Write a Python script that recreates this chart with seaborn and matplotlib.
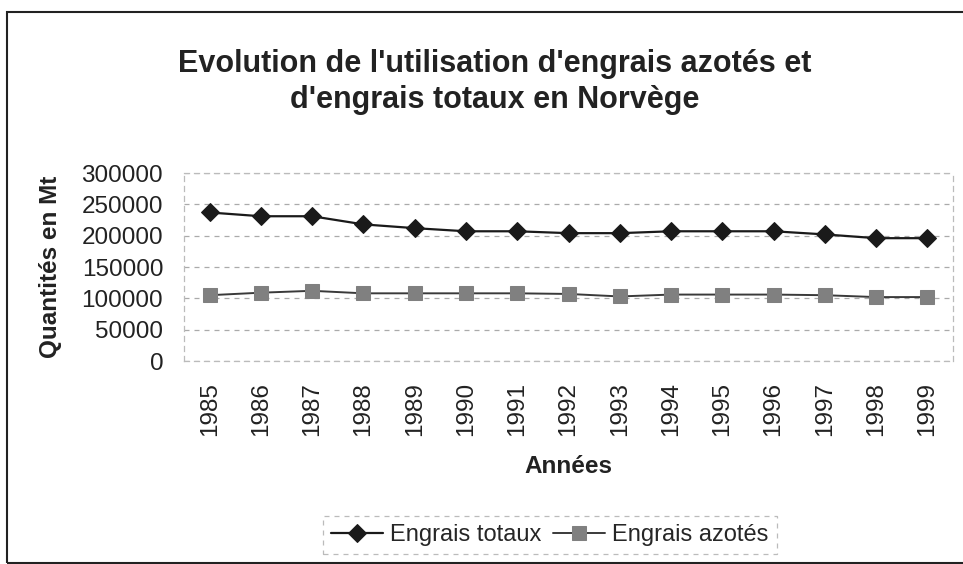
import pandas as pd
import matplotlib.pyplot as plt
import seaborn as sns
from matplotlib.patches import Rectangle

# ---------------------------------------
# Data
# ---------------------------------------

years = ["1985", "1986", "1987", "1988", "1989", "1990", "1991", "1992",
         "1993", "1994", "1995", "1996", "1997", "1998", "1999"]
engrais_totaux = [237000, 231000, 231000, 218000, 212000, 207000, 207000, 204000,
                  204000, 207000, 207000, 207000, 202000, 196000, 196000]
engrais_azotes = [105000, 109000, 112000, 108000, 108000, 108000, 108000, 107000,
                  103000, 106000, 106000, 106000, 105000, 102000, 102000]
y_ticks = [0, 50000, 100000, 150000, 200000, 250000, 300000]

df = pd.DataFrame({"annee": years, "totaux": engrais_totaux, "azotes": engrais_azotes})

# ---------------------------------------
# Figure
# ---------------------------------------

sns.set_style("white")
plt.rcParams["font.family"] = ["Liberation Sans", "DejaVu Sans"]

fig = plt.figure(figsize=(9.63, 5.64), dpi=100)
ax = fig.add_axes([184 / 963, 1 - 361 / 564, (953 - 184) / 963, (361 - 173) / 564])

sns.lineplot(data=df, x="annee", y="totaux", ax=ax, sort=False, color="#1a1a1a",
             marker="D", markersize=9, markeredgecolor="#1a1a1a", linewidth=1.6,
             label="Engrais totaux")
sns.lineplot(data=df, x="annee", y="azotes", ax=ax, sort=False, color="#3a3a3a",
             marker="s", markersize=10, markerfacecolor="#808080",
             markeredgecolor="#808080", linewidth=1.4, label="Engrais azotés")

ax.set_xlim(-0.5, len(years) - 0.5)
ax.set_ylim(0, 300000)
ax.set_yticks(y_ticks)
ax.set_yticklabels([str(v) for v in y_ticks], fontsize=17.5, color="#222222")
ax.set_xticks(range(len(years)))
ax.set_xticklabels(years, rotation=90, fontsize=17.5, color="#222222")
ax.set_xticks([i - 0.5 for i in range(len(years) + 1)], minor=True)
ax.tick_params(axis="x", which="major", length=0, pad=15)
ax.tick_params(axis="x", which="minor", length=4, color="#aaaaaa", width=1)
ax.tick_params(axis="y", length=4, color="#aaaaaa", pad=11)

ax.yaxis.grid(True, linestyle=(0, (4, 4)), color="#aaaaaa", linewidth=0.9)
for side in ["left", "bottom", "top", "right"]:
    ax.spines[side].set_visible(True)
    ax.spines[side].set_linestyle((0, (4, 4)))
    ax.spines[side].set_color("#bbbbbb")
    ax.spines[side].set_linewidth(0.9)

ax.set_xlabel("Années", fontsize=17.5, fontweight="bold", labelpad=14, color="#222222")
ax.set_ylabel("Quantités en Mt", fontsize=17.5, fontweight="bold", labelpad=14, color="#222222")

fig.text(495 / 963, 1 - 82 / 564,
         "Evolution de l'utilisation d'engrais azotés et\nd'engrais totaux en Norvège",
         ha="center", va="center", fontsize=22, fontweight="bold", color="#222222",
         linespacing=1.3)

leg = ax.legend(loc="center", bbox_to_anchor=(550 / 963, 1 - 535 / 564),
                bbox_transform=fig.transFigure, ncol=2, fontsize=17, frameon=True,
                fancybox=False, borderpad=0.35, columnspacing=0.5, handlelength=2.2,
                handletextpad=0.3)
leg.get_frame().set_edgecolor("#aaaaaa")
leg.get_frame().set_linestyle((0, (4, 4)))
leg.get_frame().set_linewidth(0.9)

# outer chart frame
fig.patches.append(Rectangle((7 / 963, 1 / 564), 1.0, 1 - 13 / 564, transform=fig.transFigure,
                             fill=False, edgecolor="#222222", linewidth=1.5))

plt.savefig("out.png", dpi=100)
